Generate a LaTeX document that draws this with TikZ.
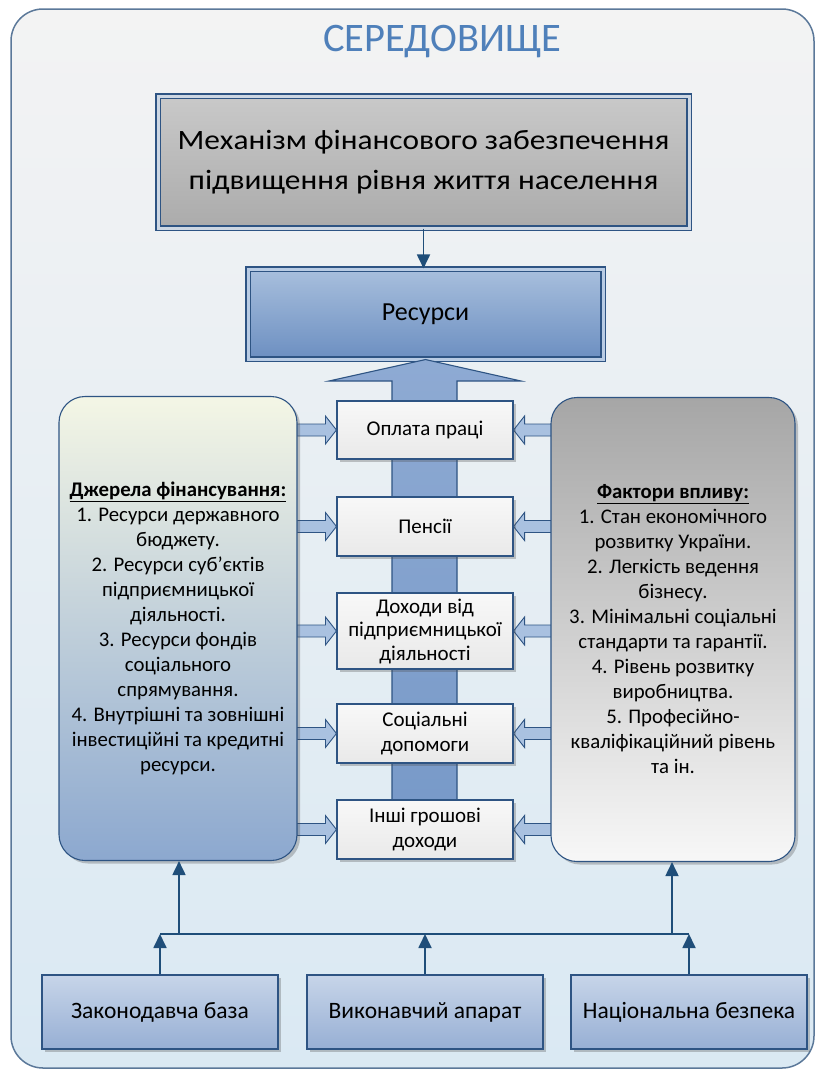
\documentclass[tikz,border=0pt]{standalone}
\usepackage{fontspec}
\setmainfont{Carlito}
\newfontfamily\mechfont[FakeStretch=1.12]{Carlito}
\usetikzlibrary{shadows,calc,arrows.meta}
\definecolor{dblue}{HTML}{2E5483}
\definecolor{lineblue}{HTML}{1F4E79}
\definecolor{titleblue}{HTML}{4F80BA}
\definecolor{outerline}{HTML}{5B7899}
\definecolor{outertop}{HTML}{F3F3F3}
\definecolor{outerbot}{HTML}{DAE9F3}
\definecolor{mechtop}{HTML}{C9C9C9}
\definecolor{mechbot}{HTML}{ABABAB}
\definecolor{mechgap}{HTML}{CDD7E3}
\definecolor{restop}{HTML}{A8BFDD}
\definecolor{resbot}{HTML}{6C8FC1}
\definecolor{resgap}{HTML}{B9CCE4}
\definecolor{shafttop}{HTML}{8EAAD3}
\definecolor{shaftbot}{HTML}{7799C8}
\definecolor{srctop}{HTML}{F4F6E5}
\definecolor{srcbot}{HTML}{8CA8CF}
\definecolor{factop}{HTML}{A6A6A6}
\definecolor{facbot}{HTML}{F7F7F7}
\definecolor{basetop}{HTML}{C7D5E9}
\definecolor{basebot}{HTML}{97AFD4}
\definecolor{arrowfill}{HTML}{A9C1E0}
\definecolor{midtop}{HTML}{F8F8F8}
\definecolor{midbot}{HTML}{E9E9E9}
\pgfdeclarelayer{back}
\pgfdeclarelayer{mid}
\pgfsetlayers{back,mid,main}
\newcommand\rarrow[2]{\path[blockarrow] let \p1=(#1.east |- #2.west), \p2=(#2.west) in
  (\x1-1pt,\y2+6pt) -- (\x2-11pt,\y2+6pt) -- (\x2-11pt,\y2+14pt) -- (\x2,\y2) --
  (\x2-11pt,\y2-14pt) -- (\x2-11pt,\y2-6pt) -- (\x1-1pt,\y2-6pt) -- cycle;}
\newcommand\larrow[2]{\path[blockarrow] let \p1=(#1.west |- #2.east), \p2=(#2.east) in
  (\x1+1pt,\y2+6pt) -- (\x2+11pt,\y2+6pt) -- (\x2+11pt,\y2+14pt) -- (\x2,\y2) --
  (\x2+11pt,\y2-14pt) -- (\x2+11pt,\y2-6pt) -- (\x1+1pt,\y2-6pt) -- cycle;}
\begin{document}
\begin{tikzpicture}[x=1pt,y=-1pt,
  box/.style={draw=dblue, line width=1.1pt, align=center, inner sep=0pt, text=black},
  shad/.style={drop shadow={shadow xshift=3pt, shadow yshift=-3pt, opacity=0.3, fill=black!70}},
  dblbox/.style={box, double=#1, double distance=3pt, shad},
  midbox/.style={box, minimum width=176pt, top color=midtop, bottom color=midbot, shad,
    font=\fontsize{21}{25}\selectfont},
  sidebox/.style={box, rounded corners=26pt, minimum height=464pt, shad,
    font=\fontsize{20.8}{25}\selectfont},
  basebox/.style={box, minimum width=236pt, minimum height=74pt, top color=basetop, bottom color=basebot, shad,
    font=\fontsize{23.5}{27}\selectfont},
  conn/.style={draw=lineblue, line width=1.8pt, -{Triangle[length=14pt,width=13pt]}},
  blockarrow/.style={draw=dblue, line width=0.9pt, fill=arrowfill},
]
\useasboundingbox (0,0) rectangle (822,1074);
\begin{pgfonlayer}{back}
\path[draw=outerline, line width=1.5pt, rounded corners=32pt, top color=outertop, bottom color=outerbot]
  (11,9) rectangle (814,1068);
\end{pgfonlayer}
\node[text=titleblue, font=\fontsize{40.5}{42}\selectfont] (title) at (442,42) {СЕРЕДОВИЩЕ};
\node[dblbox=mechgap, minimum width=531pt, minimum height=132pt, top color=mechtop, bottom color=mechbot,
  font=\mechfont\fontsize{28}{40}\selectfont] (mech) at (423.5,162)
  {Механізм фінансового забезпечення\\підвищення рівня життя населення};
\node[dblbox=resgap, minimum width=355pt, minimum height=90pt, top color=restop, bottom color=resbot,
  font=\fontsize{26}{28}\selectfont] (res) at (425.5,314) {Ресурси};
\draw[conn] (mech.south) -- (mech.south |- res.north);
% big upward arrow
\path[draw=dblue, line width=1.1pt, top color=shafttop, bottom color=shaftbot]
  (res.south) -- (521,381) -- (457,381) -- (457,830) -- (392,830) -- (392,381) -- (329,381) -- cycle;
% middle boxes
\node[midbox, minimum height=58pt] (op) at (425,430) {Оплата праці};
\node[midbox, minimum height=59pt] (pen) at (425,526.5) {Пенсії};
\node[midbox, minimum height=76pt, font=\fontsize{21}{23.5}\selectfont] (doh) at (425,631) {Доходи від\\підприємницької\\діяльності};
\node[midbox, minimum height=59pt] (soc) at (425,733.5) {Соціальні\\допомоги};
\node[midbox, minimum height=59pt] (inshi) at (425,829.5) {Інші грошові\\доходи};
% side boxes
\node[sidebox, minimum width=238pt, top color=srctop, bottom color=srcbot] (src) at (178,628.5)
  {\underline{\textbf{Джерела фінансування:}}\\1. Ресурси державного\\бюджету.\\2. Ресурси суб'єктів\\підприємницької\\діяльності.\\3. Ресурси фондів\\соціального\\спрямування.\\4. Внутрішні та зовнішні\\інвестиційні та кредитні\\ресурси.};
\node[sidebox, minimum width=244pt, top color=factop, bottom color=facbot] (fac) at (673,629.5)
  {\underline{\textbf{Фактори впливу:}}\\1. Стан економічного\\розвитку України.\\2. Легкість ведення\\бізнесу.\\3. Мінімальні соціальні\\стандарти та гарантії.\\4. Рівень розвитку\\виробництва.\\5. Професійно-\\кваліфікаційний рівень\\та ін.};
% block arrows
\begin{pgfonlayer}{mid}
\rarrow{src}{op}\rarrow{src}{pen}\rarrow{src}{doh}\rarrow{src}{soc}\rarrow{src}{inshi}
\larrow{fac}{op}\larrow{fac}{pen}\larrow{fac}{doh}\larrow{fac}{soc}\larrow{fac}{inshi}
\end{pgfonlayer}
% bottom boxes
\node[basebox] (zak) at (160,1012) {Законодавча база};
\node[basebox] (vyk) at (425,1012) {Виконавчий апарат};
\node[basebox] (nat) at (689,1012) {Національна безпека};
\coordinate (busL) at (160,934);
\coordinate (busR) at (689,934);
\coordinate (lup) at (179,934);
\coordinate (rup) at (672,934);
\draw[draw=lineblue, line width=1.8pt] (busL) -- (busR);
\draw[conn] (zak.north) -- (zak.north |- busL);
\draw[conn] (vyk.north) -- (vyk.north |- busL);
\draw[conn] (nat.north) -- (nat.north |- busR);
\draw[conn] (lup) -- (lup |- src.south);
\draw[conn] (rup) -- (rup |- fac.south);
\end{tikzpicture}
\end{document}
